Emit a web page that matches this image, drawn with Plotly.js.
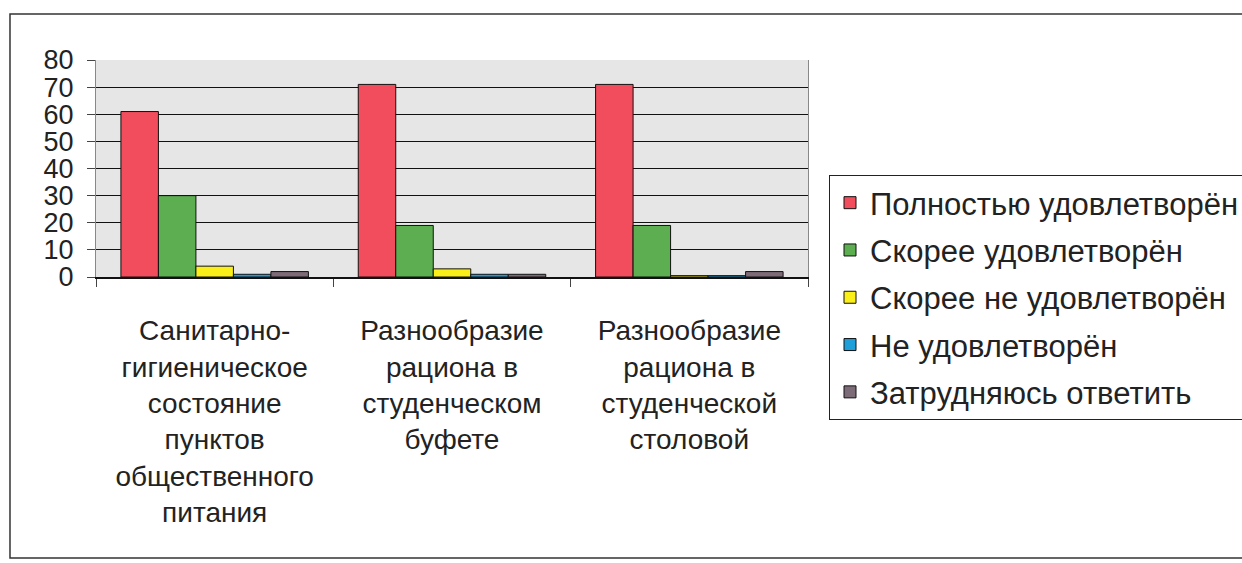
<!DOCTYPE html>
<html>
<head>
<meta charset="utf-8">
<script src="https://cdn.plot.ly/plotly-3.0.1.min.js"></script>
<style>html,body{margin:0;padding:0;background:#fff;}#chart{width:1242px;height:563px;}</style>
</head>
<body>
<div id="chart"></div>
<script>
const categories = [
  "Санитарно-<br>гигиеническое<br>состояние<br>пунктов<br>общественного<br>питания",
  "Разнообразие<br>рациона в<br>студенческом<br>буфете",
  "Разнообразие<br>рациона в<br>студенческой<br>столовой"
];
const seriesNames = ["Полностью удовлетворён", "Скорее удовлетворён", "Скорее не удовлетворён", "Не удовлетворён", "Затрудняюсь ответить"];
const fullySatisfied = [61, 71, 71];
const ratherSatisfied = [30, 19, 19];
const ratherNotSatisfied = [4, 3, 0.5];
const notSatisfied = [1, 1, 0.5];
const hardToSay = [2, 1, 2];
const seriesColors = ["#f24d5c", "#5cae50", "#fbef1a", "#1e9fd9", "#7e6b78"];
const yTicks = [0, 10, 20, 30, 40, 50, 60, 70, 80];

const seriesValues = [fullySatisfied, ratherSatisfied, ratherNotSatisfied, notSatisfied, hardToSay];
const FONT = "Liberation Sans, Arial, sans-serif";

const traces = seriesValues.map((vals, i) => ({
  type: "bar",
  name: seriesNames[i],
  legendgroup: "g" + i,
  x: categories,
  y: vals,
  marker: {color: seriesColors[i], line: {color: "#111", width: 1}},
  hoverinfo: "none"
}));

const layout = {
  width: 1242, height: 563,
  margin: {l: 96, r: 434, t: 60, b: 286, autoexpand: false},
  paper_bgcolor: "#ffffff",
  plot_bgcolor: "#e6e6e6",
  barmode: "group",
  bargap: 0.21,
  bargroupgap: 0,
  font: {family: FONT, color: "#222"},
  showlegend: true,
  legend: {
    x: 1.0295, y: 0.47, xanchor: "left", yanchor: "top",
    bgcolor: "#ffffff", bordercolor: "#222", borderwidth: 1,
    font: {family: FONT, size: 31, color: "#222"},
    traceorder: "grouped", tracegroupgap: 4,
    maxheight: 400
  },
  xaxis: {
    type: "category",
    tickson: "boundaries",
    ticks: "outside", ticklen: 8, tickcolor: "#444",
    ticklabelstandoff: 28,
    showline: true, linecolor: "#111", linewidth: 1.5,
    tickfont: {family: FONT, size: 28, color: "#222"},
    showgrid: false
  },
  yaxis: {
    range: [0, 80],
    tickvals: yTicks,
    ticktext: yTicks.map(String),
    ticks: "outside", ticklen: 8, tickcolor: "#444",
    ticklabelstandoff: 8,
    showline: true, linecolor: "#888", linewidth: 1, mirror: true,
    gridcolor: "#111", gridwidth: 1.2,
    zeroline: false,
    tickfont: {family: FONT, size: 27, color: "#222"}
  },
  shapes: [
    {type: "rect", xref: "paper", yref: "paper", x0: -0.1208, x1: 1.62, y0: -1.295, y1: 1.212,
     line: {color: "#333", width: 1.5}, fillcolor: "rgba(0,0,0,0)"}
  ]
};

Plotly.newPlot("chart", traces, layout, {displayModeBar: false, staticPlot: true});
</script>
</body>
</html>
